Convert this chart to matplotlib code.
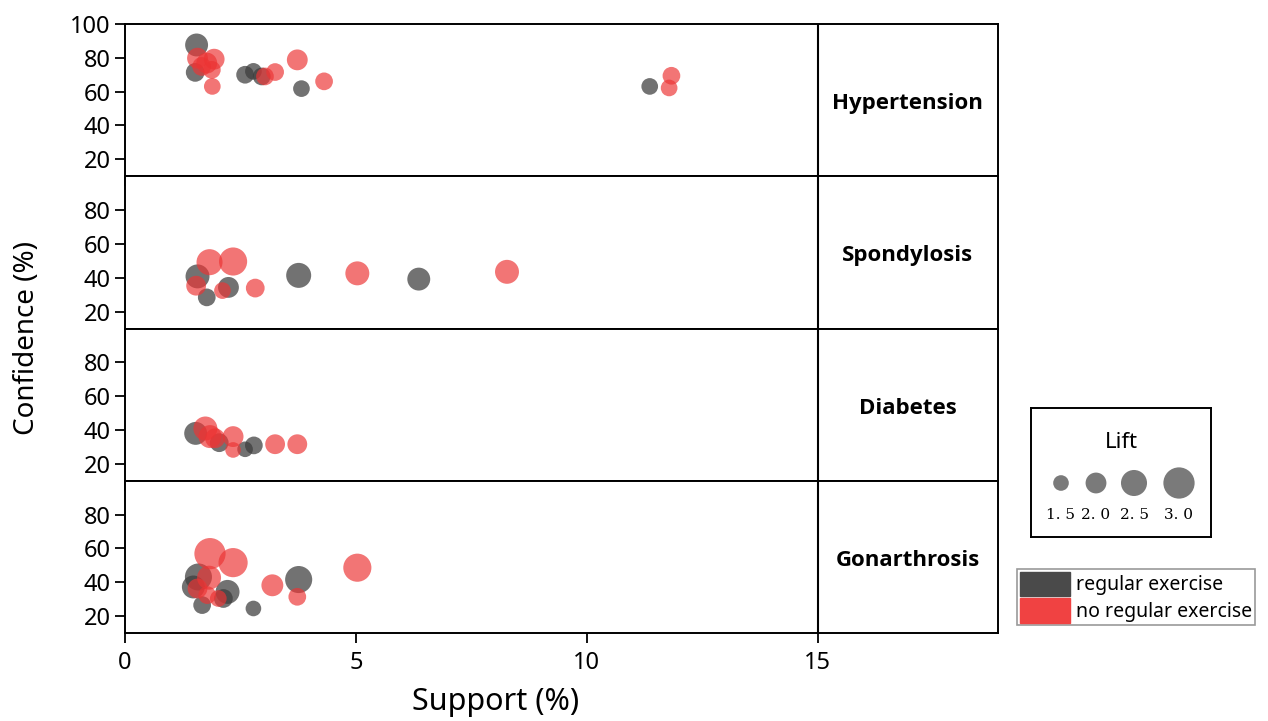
import matplotlib.pyplot as plt
from matplotlib.patches import Patch

# --- data (support %, confidence %, lift) ---
diseases = ["Hypertension", "Spondylosis", "Diabetes", "Gonarthrosis"]

# regular exercise (grey)
reg_support = [
    [1.55, 1.52, 2.60, 2.78, 2.96, 3.82, 11.36],
    [1.57, 2.24, 1.77, 3.76, 6.36],
    [1.53, 2.04, 2.60, 2.79],
    [1.59, 1.48, 2.22, 2.13, 1.67, 2.78, 3.76],
]
reg_conf = [
    [87.6, 71.4, 70.0, 72.0, 69.0, 61.8, 63.1],
    [40.8, 34.3, 28.4, 41.4, 39.2],
    [38.0, 32.5, 28.6, 30.9],
    [43.1, 37.2, 34.3, 30.4, 26.5, 24.5, 41.6],
]
reg_lift = [
    [2.2, 1.8, 1.7, 1.6, 1.7, 1.6, 1.6],
    [2.3, 2.0, 1.7, 2.4, 2.2],
    [2.2, 1.8, 1.5, 1.7],
    [2.6, 2.2, 2.3, 1.8, 1.7, 1.5, 2.6],
]

# no regular exercise (red)
no_support = [
    [1.57, 1.93, 1.77, 1.66, 1.88, 1.89, 3.03, 3.25, 3.73, 4.31, 11.83, 11.78],
    [1.83, 2.34, 1.54, 2.11, 2.82, 5.03, 8.27],
    [1.74, 1.84, 1.95, 2.34, 2.34, 3.25, 3.73],
    [1.84, 2.34, 1.82, 1.57, 2.02, 1.78, 3.19, 3.73, 5.03],
]
no_conf = [
    [79.8, 79.2, 76.9, 74.9, 72.9, 63.1, 69.0, 71.6, 78.8, 66.1, 69.4, 62.2],
    [49.2, 49.6, 35.3, 32.4, 33.9, 42.6, 43.5],
    [40.9, 36.1, 35.1, 36.1, 28.2, 31.6, 31.6],
    [56.9, 51.6, 42.7, 36.3, 30.4, 32.4, 38.2, 31.4, 48.6],
]
no_lift = [
    [2.0, 2.0, 2.0, 1.8, 1.7, 1.6, 1.7, 1.7, 2.0, 1.7, 1.7, 1.6],
    [2.5, 2.7, 1.9, 1.6, 1.8, 2.3, 2.3],
    [2.3, 2.2, 1.9, 2.0, 1.5, 1.9, 1.9],
    [3.0, 2.8, 2.3, 1.9, 1.6, 1.7, 2.1, 1.7, 2.7],
]

legend_lifts = [1.5, 2.0, 2.5, 3.0]
x_ticks = [0, 5, 10, 15]

GREY = "#3c3c3c"
RED = "#ec3434"
FONT = "Noto Sans"
BOLD_FONT = "Open Sans"


def bubble_size(lift):
    # marker area in pt^2, diameter ~ 7.5 pt per unit of lift
    return [(7.5 * v) ** 2 for v in lift]


plt.rcParams["font.family"] = FONT
W, H = 1268, 721
fig, axes = plt.subplots(4, 1, figsize=(W / 100, H / 100), dpi=100, sharex=True,
                         gridspec_kw=dict(hspace=0))
fig.subplots_adjust(left=125 / W, right=998 / W, top=1 - 24 / H, bottom=1 - 633 / H)

for i, ax in enumerate(axes):
    ax.scatter(reg_support[i], reg_conf[i], s=bubble_size(reg_lift[i]),
               color=GREY, alpha=0.72, linewidths=0, zorder=3)
    ax.scatter(no_support[i], no_conf[i], s=bubble_size(no_lift[i]),
               color=RED, alpha=0.68, linewidths=0, zorder=4)
    ax.axvline(15, color="black", lw=1.5, zorder=2)
    ax.set_xlim(0, 18.9)
    ax.set_ylim(10, 100)
    ax.set_yticks([20, 40, 60, 80, 100] if i == 0 else [20, 40, 60, 80])
    ax.tick_params(axis="both", labelsize=17, length=7, width=1.3, direction="out")
    for sp in ax.spines.values():
        sp.set_linewidth(1.4)
    ax.text(16.95, 53, diseases[i], ha="center", va="center",
            fontsize=16, fontweight="bold", family=BOLD_FONT)

axes[-1].set_xticks(x_ticks)
axes[-1].tick_params(axis="x", pad=6)
fig.text(496 / W, 1 - 702 / H, "Support (%)", ha="center", va="center", fontsize=22)
fig.text(0.021, 1 - 338 / H, "Confidence (%)", rotation=90,
         ha="center", va="center", fontsize=20)

# --- lift size legend ---
lax = fig.add_axes([1031 / W, 1 - 537 / H, 180 / W, 129 / H])
lax.set_xlim(0, 180)
lax.set_ylim(0, 129)
lax.set_xticks([])
lax.set_yticks([])
for sp in lax.spines.values():
    sp.set_linewidth(1.4)
lax.text(90, 94, "Lift", ha="center", va="center", fontsize=16)
leg_x = [30, 65, 103, 148]
lax.scatter(leg_x, [54] * len(legend_lifts), s=bubble_size(legend_lifts),
            color="#7a7a7a", linewidths=0)
for xx, v in zip(leg_x, legend_lifts):
    lax.text(xx, 22, f"{v:.1f}".replace(".", ". "), ha="center", va="center",
             fontsize=11, family="DejaVu Serif")

# --- colour legend ---
handles = [Patch(facecolor="#4a4a4a", edgecolor="#4a4a4a", label="regular exercise"),
           Patch(facecolor="#f04242", edgecolor="#f04242", label="no regular exercise")]
leg = fig.legend(handles=handles, loc="upper left",
                 bbox_to_anchor=(1017 / W, 1 - 569 / H), fontsize=14,
                 frameon=True, fancybox=False, edgecolor="#808080",
                 handlelength=2.6, handleheight=1.55, handletextpad=0.3,
                 labelspacing=0.1, borderpad=0.15, borderaxespad=0)
leg.get_frame().set_linewidth(1.2)

fig.savefig("out.png", dpi=100)
